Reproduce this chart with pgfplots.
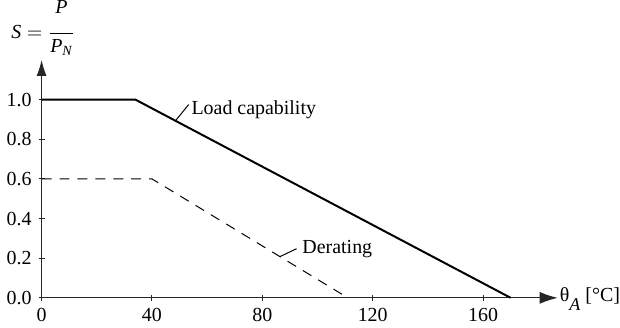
\documentclass[border=0pt]{standalone}
\usepackage{amsmath}
\usepackage{fontspec}
\setmainfont{Liberation Serif}
\usepackage{pgfplots}
\pgfplotsset{compat=1.18}
\usetikzlibrary{arrows.meta}
\begin{document}
\begin{tikzpicture}
\begin{axis}[
  x=1.385pt, y=99.5pt,
  xmin=0, xmax=187, ymin=0, ymax=1.2,
  axis lines=left,
  axis line style={line width=0.5pt, black!85},
  x axis line style={-{Latex[length=9pt,width=6pt]}},
  y axis line style={-{Latex[length=8pt,width=5pt]}},
  xtick={0,40,80,120,160},
  ytick={0,0.2,0.4,0.6,0.8,1.0},
  tick align=center, major tick length=3pt,
  tick style={black!85, line width=0.5pt},
  yticklabel style={/pgf/number format/fixed, /pgf/number format/fixed zerofill, /pgf/number format/precision=1},
  /pgf/number format/assume math mode=true,
  clip=false,
]
\addplot[black, line width=1pt] coordinates {(0,1) (34,1) (170,0)};
\addplot[black, line width=0.5pt, dash pattern=on 5pt off 4pt] coordinates {(0,0.6) (40,0.6) (111,0)};
\draw[black, line width=0.5pt] (axis cs:48.5,0.893) -- (axis cs:53.3,0.975);
\node[anchor=base west, inner sep=0] at (axis cs:54.2,0.925) {Load capability};
\draw[black, line width=0.5pt] (axis cs:86.4,0.208) -- (axis cs:92.4,0.248);
\node[anchor=base west, inner sep=0] at (axis cs:94.4,0.223) {Derating};
\node[anchor=base west, inner sep=0] at (axis cs:-11.1,1.307) {$\textit{S} = \dfrac{\rule[-9pt]{0pt}{9pt}\text{\itshape P}}{\rule{0pt}{8pt}\textit{P}_{\text{\itshape N}}}$};
\node[anchor=base west, inner sep=0] at (axis cs:187.7,-0.02) {θ\raisebox{-0.45em}{\small\textit{A}} [°C]};
\end{axis}
\end{tikzpicture}
\end{document}
